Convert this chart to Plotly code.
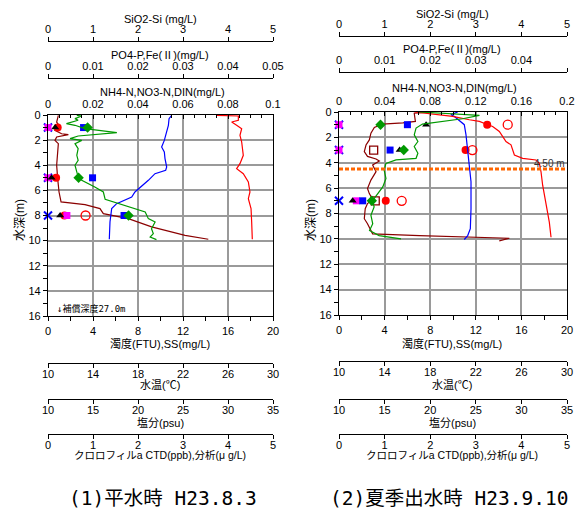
import plotly.graph_objects as go

# ================= Panel 1 : (1) 平水時 H23.8.3 =================
# CTD profiles (depth m, value)
p1_turb_depth = [0.03, 0.56, 0.95, 1.22, 1.49, 1.56, 1.75, 2.02, 2.28, 2.94, 4.0, 5.07, 6.13, 6.92, 7.14, 7.45, 7.85, 8.25, 8.91, 9.58, 9.89]
p1_turb = [0.92, 0.77, 1.07, 0.62, 1.21, 1.81, 0.77, 0.62, 0.92, 0.86, 0.77, 0.86, 0.98, 1.16, 3.29, 4.62, 4.92, 7.14, 9.21, 12.18, 14.25]

p1_temp_depth = [0.03, 0.29, 0.82, 1.35, 2.02, 2.55, 2.94, 3.47, 4.14, 4.40, 4.67, 5.20, 6.13, 6.53, 7.06, 7.45, 8.51, 9.89]
p1_temp = [20.99, 20.76, 20.70, 20.55, 20.34, 20.10, 20.34, 20.40, 20.55, 20.46, 19.51, 18.92, 17.73, 17.44, 16.10, 15.66, 15.51, 15.45]

p1_sal_depth = [0.03, 0.08, 0.42, 0.56, 0.82, 1.09, 1.62, 2.15, 3.21, 3.87, 4.27, 4.67, 5.33, 6.13, 6.66, 7.45, 8.51, 9.89]
p1_sal = [28.74, 31.15, 31.15, 30.41, 30.96, 31.52, 31.33, 31.52, 31.70, 31.33, 30.96, 31.70, 32.26, 32.44, 32.26, 32.56, 32.63, 32.70]

p1_chl_depth = [0.03, 0.08, 0.29, 0.42, 0.69, 0.82, 1.09, 1.41, 1.67, 1.88, 2.02, 2.28, 2.68, 3.21, 3.61, 4.0, 4.8, 5.2, 5.73, 6.13, 6.71, 6.92, 7.19, 7.72, 8.25, 8.51, 9.05, 9.44, 9.71, 9.92]
p1_chl = [0.64, 0.75, 0.60, 0.67, 0.41, 0.60, 0.82, 1.53, 0.67, 0.49, 0.75, 0.60, 0.67, 0.64, 0.67, 0.60, 0.66, 0.75, 1.04, 1.23, 1.27, 1.45, 1.71, 2.16, 2.23, 2.38, 2.30, 2.34, 2.27, 2.41]

# analysis samples
p1_sample_depth = [1, 5, 8]
p1_nh4 = [0, 0, 0]
p1_fe = [0, 0, 0.0042]
p1_po4 = [0.0016, 0.0008, 0.0027]
p1_no3 = [0.0043, 0.0036, 0.0073]
p1_din = [None, None, 0.0167]
p1_sio2 = [0.79, 0.99, 1.69]
p1_chl_an = [0.88, 0.68, 1.79]
p1_ss = [None, None, None]

# ================= Panel 2 : (2) 夏季出水時 H23.9.10 =================
p2_turb_depth = [0.0, 0.1, 0.74, 0.85, 0.95, 1.22, 1.67, 2.2, 2.6, 3.12, 3.5, 3.7, 3.86, 4.18, 4.7, 5.37, 6.03, 6.43, 6.88, 7.22, 7.62, 8.41, 8.81, 9.34, 9.6, 9.74, 9.95, 10.16]
p2_turb = [8.2, 6.6, 6.7, 5.6, 3.8, 3.1, 2.8, 2.66, 2.37, 2.22, 2.5, 3.25, 3.54, 2.95, 3.25, 2.8, 2.5, 2.66, 2.95, 2.5, 2.3, 2.22, 2.5, 2.8, 2.95, 7.05, 14.94, 14.06]

p2_temp_depth = [0.0, 0.21, 0.34, 0.74, 1.0, 1.8, 3.12, 4.18, 5.5, 7.62, 9.2, 9.74, 10.05]
p2_temp = [20.41, 19.82, 20.10, 20.70, 20.99, 21.14, 21.29, 21.43, 21.58, 21.58, 21.52, 21.29, 20.99]

p2_sal_depth = [0.0, 0.16, 0.34, 0.61, 0.74, 0.95, 1.14, 1.53, 1.93, 2.33, 2.59, 3.39, 3.65, 3.78, 4.05, 4.71, 5.77, 6.56, 7.35, 8.68, 9.87]
p2_sal = [18.26, 20.64, 22.46, 24.29, 25.39, 26.12, 26.85, 27.58, 27.95, 28.31, 28.86, 29.23, 30.14, 31.60, 31.97, 32.15, 32.33, 32.52, 32.70, 33.06, 33.25]

p2_chl_depth = [0.0, 0.05, 0.26, 0.53, 0.74, 0.95, 1.27, 1.8, 2.33, 2.72, 3.25, 3.65, 3.78, 4.05, 4.58, 5.24, 5.9, 6.43, 6.96, 7.49, 8.15, 8.81, 9.34, 9.74, 10.0]
p2_chl = [1.76, 2.05, 3.08, 2.71, 2.27, 1.83, 1.69, 1.65, 1.73, 1.65, 1.73, 1.69, 1.25, 1.03, 0.99, 1.03, 0.96, 0.85, 0.74, 0.77, 0.70, 0.74, 0.67, 0.88, 1.36]

p2_sample_depth = [1, 3, 7]
p2_nh4 = [0, 0, 0]
p2_fe = [0, 0, 0.0038]
p2_po4 = [0.0191, 0.0133, 0.0030]
p2_no3 = [0.130, 0.111, 0.041]
p2_din = [0.148, 0.117, 0.055]
p2_sio2 = [1.50, 1.12, 0.52]
p2_chl_an = [0.91, 1.42, 0.72]
p2_ss = [None, 3.04, 3.18]

p2_marker_depth = 4.5

# axis tick definitions
depth_ticks = [0, 2, 4, 6, 8, 10, 12, 14, 16]
turb_ticks = [0, 4, 8, 12, 16, 20]

W, H = 576, 511
FONT = "Liberation Sans, Noto Sans CJK JP, sans-serif"
MONO = "DejaVu Sans Mono, Noto Sans CJK JP, monospace"

BROWN = "#8B0000"
GREEN = "#009900"
BLUE = "#0000FF"
RED = "#FF0000"

fig = go.Figure()


def px_x(v):
    return v / W


def px_y(v):
    return 1 - v / H


panels = [
    dict(x0=48, x1=273, ytop=115, ybot=316, top_pos=(78, 41), bot_pos=(363, 399, 434),
         nh4_max=0.1, nh4_dtick=0.02, nh4_minor=0.005,
         prof=dict(turb=(p1_turb, p1_turb_depth), temp=(p1_temp, p1_temp_depth),
                   sal=(p1_sal, p1_sal_depth), chl=(p1_chl, p1_chl_depth)),
         samp=dict(d=p1_sample_depth, nh4=p1_nh4, fe=p1_fe, po4=p1_po4, no3=p1_no3,
                   din=p1_din, sio2=p1_sio2, chl=p1_chl_an, ss=p1_ss)),
    dict(x0=339, x1=567, ytop=112, ybot=315, top_pos=(72, 36), bot_pos=(361, 399, 434),
         nh4_max=0.2, nh4_dtick=0.04, nh4_minor=0.01,
         prof=dict(turb=(p2_turb, p2_turb_depth), temp=(p2_temp, p2_temp_depth),
                   sal=(p2_sal, p2_sal_depth), chl=(p2_chl, p2_chl_depth)),
         samp=dict(d=p2_sample_depth, nh4=p2_nh4, fe=p2_fe, po4=p2_po4, no3=p2_no3,
                   din=p2_din, sio2=p2_sio2, chl=p2_chl_an, ss=p2_ss)),
]

layout_axes = {}
tickfont = dict(size=11, family=FONT, color="black")

for i, p in enumerate(panels):
    base = 1 + i * 7
    xn = [f"x{base + k}" if base + k > 1 else "x" for k in range(7)]
    yid = "y" if i == 0 else "y2"
    xdom = [px_x(p["x0"]), px_x(p["x1"])]
    ydom = [px_y(p["ybot"]), px_y(p["ytop"])]

    def lname(a):
        return "xaxis" if a == "x" else "xaxis" + a[1:]

    main = xn[0]
    # turbidity (main bottom)
    layout_axes[lname(xn[0])] = dict(
        domain=xdom, range=[0, 20], anchor=yid, side="bottom", automargin=False,
        tickvals=turb_ticks, showgrid=True, gridcolor="#9a9a9a", gridwidth=1.5,
        showline=True, linecolor="black", linewidth=1.2, ticks="outside", ticklen=4,
        tickcolor="black", zeroline=False, tickfont=tickfont, ticklabelstandoff=1,
        minor=dict(dtick=2, ticks="outside", ticklen=4, tickcolor="black", showgrid=False))
    # NH4 top
    layout_axes[lname(xn[1])] = dict(
        domain=xdom, range=[0, p["nh4_max"]], overlaying=main, anchor=yid, side="top",
        automargin=False,
        dtick=p["nh4_dtick"], tick0=0, showgrid=False, showline=True, linecolor="black",
        linewidth=1.2, ticks="inside", ticklen=4, tickcolor="black", zeroline=False,
        tickfont=tickfont, ticklabelstandoff=2,
        minor=dict(dtick=p["nh4_minor"], ticks="inside", ticklen=3, tickcolor="black", showgrid=False))
    specs_top = [(xn[2], [0, 0.05], 0.01, p["top_pos"][0]), (xn[3], [0, 5], 1, p["top_pos"][1])]
    for a, rng, dt, ypos in specs_top:
        layout_axes[lname(a)] = dict(
            domain=xdom, range=rng, overlaying=main, anchor="free", position=px_y(ypos),
            side="top", dtick=dt, tick0=0, showgrid=False, showline=True, linecolor="black",
            linewidth=1.2, ticks="outside", ticklen=4, tickcolor="black", zeroline=False,
            tickfont=tickfont, automargin=False)
    specs_bot = [(xn[4], [10, 30], 4, p["bot_pos"][0]), (xn[5], [10, 35], 5, p["bot_pos"][1]),
                 (xn[6], [0, 5], 1, p["bot_pos"][2])]
    for a, rng, dt, ypos in specs_bot:
        layout_axes[lname(a)] = dict(
            domain=xdom, range=rng, overlaying=main, anchor="free", position=px_y(ypos),
            side="bottom", dtick=dt, tick0=rng[0], showgrid=False, showline=True,
            linecolor="black", linewidth=1.2, ticks="outside", ticklen=4, tickcolor="black",
            zeroline=False, tickfont=tickfont, automargin=False, ticklabelstandoff=-3)
    layout_axes["yaxis" if i == 0 else "yaxis2"] = dict(
        domain=ydom, range=[16, 0], anchor=main, tickvals=depth_ticks, showgrid=True,
        gridcolor="#9a9a9a", gridwidth=1.5, showline=True, mirror=True, linecolor="black",
        linewidth=1.2, ticks="outside", ticklen=4, tickcolor="black", zeroline=False,
        automargin=False,
        tickfont=dict(size=11, family=FONT, color="black"),
        minor=dict(dtick=1, ticks="outside", ticklen=4, tickcolor="black", showgrid=False))

    pr = p["prof"]
    fig.add_trace(go.Scatter(x=pr["temp"][0], y=pr["temp"][1], xaxis=xn[4], yaxis=yid, mode="lines",
                             line=dict(color=BLUE, width=1.2), name="水温", showlegend=False))
    fig.add_trace(go.Scatter(x=pr["sal"][0], y=pr["sal"][1], xaxis=xn[5], yaxis=yid, mode="lines",
                             line=dict(color=RED, width=1.2), name="塩分", showlegend=False))
    fig.add_trace(go.Scatter(x=pr["chl"][0], y=pr["chl"][1], xaxis=xn[6], yaxis=yid, mode="lines",
                             line=dict(color=GREEN, width=1.2), name="クロロフィルa", showlegend=False))
    fig.add_trace(go.Scatter(x=pr["turb"][0], y=pr["turb"][1], xaxis=xn[0], yaxis=yid, mode="lines",
                             line=dict(color=BROWN, width=1.2), name="濁度", showlegend=False))

    s = p["samp"]
    d = s["d"]

    def mk(x, ax, sym, color, size, name, lw=0):
        fig.add_trace(go.Scatter(x=x, y=d, xaxis=ax, yaxis=yid, mode="markers", name=name,
                                 showlegend=False, cliponaxis=False,
                                 marker=dict(symbol=sym, color=color, size=size,
                                             line=dict(color=color, width=lw))))

    mk(s["fe"], xn[2], "square", "#FF00FF", 7, "Fe(II)")
    mk(s["nh4"], xn[1], "x-thin-open", BLUE, 8, "NH4-N", lw=2)
    mk(s["po4"], xn[2], "triangle-up", "black", 7, "PO4-P")
    mk(s["ss"], xn[0], "square-open", BROWN, 8, "SS", lw=1.3)
    mk(s["no3"], xn[1], "circle", RED, 8, "NO3-N")
    mk(s["din"], xn[1], "circle-open", RED, 9, "DIN", lw=1.3)
    mk(s["sio2"], xn[3], "square", BLUE, 7, "SiO2-Si")
    mk(s["chl"], xn[6], "diamond", GREEN, 8, "クロロフィルa分析")

annotations = []


def ann(text, x, y, size=11, xanchor="center", angle=0, family=FONT, color="black"):
    annotations.append(dict(text=text, x=px_x(x), y=px_y(y), xref="paper", yref="paper",
                            showarrow=False, xanchor=xanchor, yanchor="middle", textangle=angle,
                            font=dict(size=size, family=family, color=color)))


for p, cx, tops in [(panels[0], 160, (19, 55, 92)), (panels[1], 452, (13.5, 49, 88.5))]:
    ann("SiO2-Si (mg/L)", cx, tops[0])
    ann("PO4-P,Fe(Ⅱ)(mg/L)", cx, tops[1])
    ann("NH4-N,NO3-N,DIN(mg/L)", cx + 2, tops[2])
    ann("濁度(FTU),SS(mg/L)", cx, 344)
    ann("水温(℃)", cx, 385)
    ann("塩分(psu)", cx, 422)
    ann("クロロフィルa CTD(ppb),分析(μ g/L)", cx, 455, size=10.5)
    ann("水深(m)", 20 if p is panels[0] else 311, 220, size=12, angle=-90)

ann("↓補償深度27.0m", 55, 308, size=9, xanchor="left", family=MONO)
ann("4.50 m", 567, 163, size=10, xanchor="right", color="#333333")
ann("(1)平水時 H23.8.3", 163, 498, size=19.5, family=MONO)
ann("(2)夏季出水時 H23.9.10", 449, 498, size=19.5, family=MONO)

shapes = [dict(type="line", xref="x8 domain", x0=0, x1=1, yref="y2", y0=p2_marker_depth,
               y1=p2_marker_depth, line=dict(color="#FF6600", width=3, dash="4px,2px"))]

fig.update_layout(
    template="none",
    width=W, height=H, margin=dict(l=0, r=0, t=0, b=0, pad=0), autosize=False,
    paper_bgcolor="white", plot_bgcolor="white", showlegend=False,
    font=dict(family=FONT, size=11, color="black"),
    annotations=annotations, shapes=shapes, **layout_axes)

fig.write_html("out.html", config=dict(responsive=False, displayModeBar=False),
               post_script="document.body.style.margin='0px';document.body.style.padding='0px';")
